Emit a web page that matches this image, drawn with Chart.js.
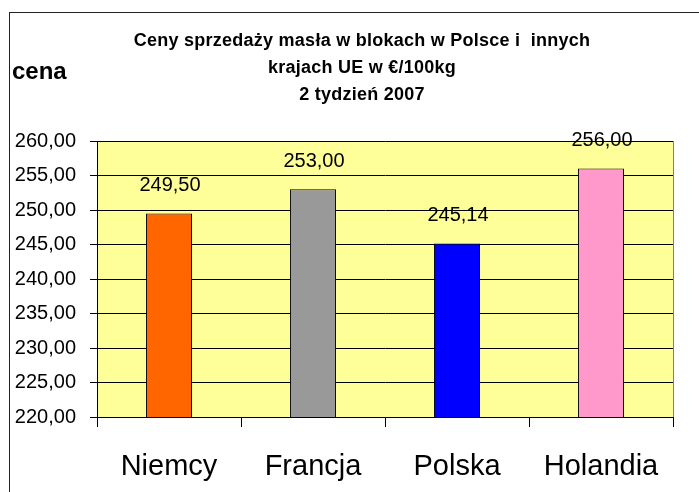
<!DOCTYPE html>
<html>
<head>
<meta charset="utf-8">
<script src="https://cdn.jsdelivr.net/npm/chart.js@4.4.1/dist/chart.umd.min.js"></script>
<style>
  html, body { margin: 0; padding: 0; background: #fff; }
  #wrap { width: 699px; height: 492px; }
</style>
</head>
<body>
<div id="wrap"><canvas id="butterChart" width="699" height="492"></canvas></div>
<script>
// dane z wykresu
const countries = ["Niemcy", "Francja", "Polska", "Holandia"];
const prices = [249.50, 253.00, 245.14, 256.00];
const barColors = ["#FF6600", "#999999", "#0000FF", "#FF99CC"];
const titleLines = ["Ceny sprzedaży masła w blokach w Polsce i  innych", "krajach UE w €/100kg", "2 tydzień 2007"];
const axisLabel = "cena";
const yMin = 220, yMax = 260, yStep = 5;

const FONT = "Arial, 'Liberation Sans', sans-serif";
const fmt = v => v.toFixed(2).replace(".", ",");

// ramka, tło obszaru wykresu, tytuł
const decor = {
  id: "decor",
  beforeDraw(chart) {
    const { ctx, chartArea: a } = chart;
    ctx.save();
    ctx.fillStyle = "#FFFF99";
    ctx.fillRect(a.left, a.top, a.right - a.left, a.bottom - a.top);
    ctx.restore();
  },
  afterDraw(chart) {
    const { ctx, chartArea: a } = chart;
    ctx.save();
    ctx.strokeStyle = "#222";
    ctx.lineWidth = 1;
    ctx.strokeRect(9.5, 12.5, 900, 600);
    ctx.strokeStyle = "#808080";
    ctx.beginPath();
    ctx.moveTo(Math.round(a.right) + 0.5, a.top);
    ctx.lineTo(Math.round(a.right) + 0.5, a.bottom);
    ctx.stroke();

    ctx.fillStyle = "#000";
    ctx.textAlign = "center";
    ctx.textBaseline = "middle";
    ctx.font = "bold 18px " + FONT;
    if ("letterSpacing" in ctx) ctx.letterSpacing = "0.25px";
    titleLines.forEach((t, i) => ctx.fillText(t, 362, 41 + i * 27));
    if ("letterSpacing" in ctx) ctx.letterSpacing = "0px";
    ctx.textAlign = "left";
    ctx.font = "bold 24px " + FONT;
    ctx.fillText(axisLabel, 12, 72);
    ctx.restore();
  },
  afterDatasetsDraw(chart) {
    const { ctx } = chart;
    const meta = chart.getDatasetMeta(0);
    ctx.save();
    ctx.fillStyle = "#000";
    ctx.font = "20px " + FONT;
    ctx.textAlign = "center";
    ctx.textBaseline = "middle";
    meta.data.forEach((bar, i) => {
      ctx.fillText(fmt(prices[i]), bar.x + 1, bar.y - 28);
    });
    ctx.restore();
  }
};

new Chart(document.getElementById("butterChart"), {
  type: "bar",
  data: {
    labels: countries,
    datasets: [{
      data: prices,
      backgroundColor: barColors,
      borderColor: "#000",
      borderWidth: 1,
      borderSkipped: false,
      categoryPercentage: 1,
      barPercentage: 0.32
    }]
  },
  options: {
    responsive: false,
    animation: false,
    layout: { padding: { left: 0, right: 26, top: 141, bottom: 0 } },
    plugins: {
      legend: { display: false },
      title: { display: false },
      tooltip: { enabled: false }
    },
    scales: {
      x: {
        afterFit: s => { s.height = 75; },
        grid: { display: true, drawOnChartArea: false, offset: true, color: "#000", tickLength: 10 },
        border: { color: "#000" },
        ticks: { color: "#000", font: { family: FONT, size: 29 }, padding: 23 }
      },
      y: {
        min: yMin,
        max: yMax,
        afterFit: s => { s.width = 97; },
        grid: { color: "#000", tickLength: 7 },
        border: { color: "#000" },
        ticks: {
          stepSize: yStep,
          color: "#000",
          font: { family: FONT, size: 20 },
          padding: 14,
          callback: v => fmt(v)
        }
      }
    }
  },
  plugins: [decor]
});
</script>
</body>
</html>
